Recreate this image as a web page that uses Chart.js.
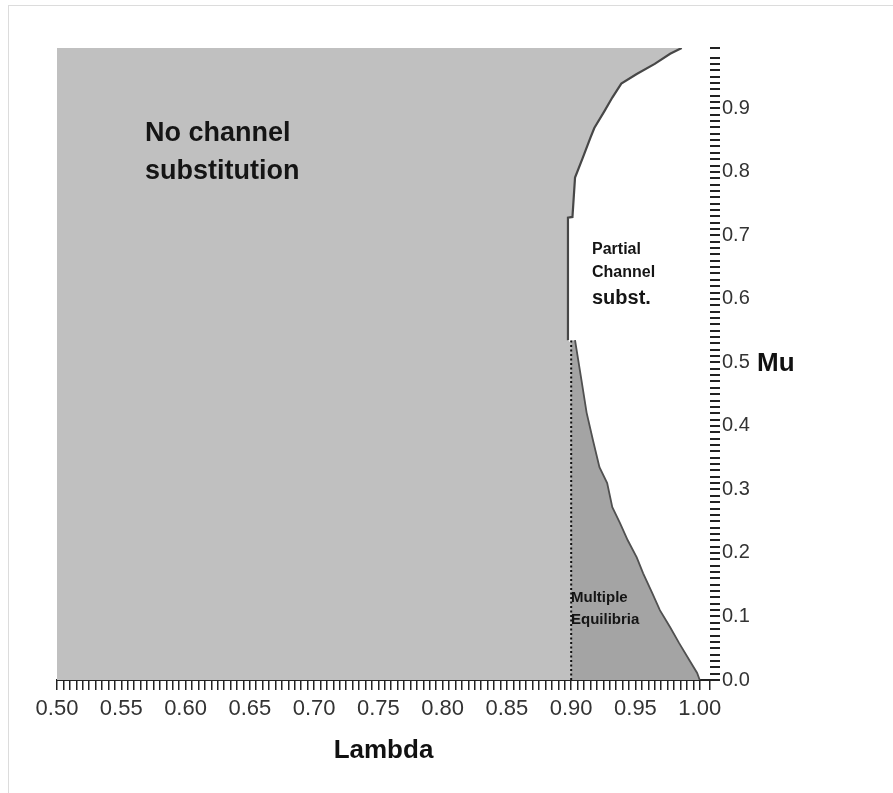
<!DOCTYPE html>
<html>
<head>
<meta charset="utf-8">
<script src="https://cdn.jsdelivr.net/npm/chart.js@4/dist/chart.umd.min.js"></script>
<style>
  html, body { margin: 0; padding: 0; background: #fff; }
  #wrap { position: relative; width: 893px; height: 793px; }
  #frame { position: absolute; left: 8px; top: 5px; right: 0; bottom: 0;
           border-top: 1px solid #dcdcdc; border-left: 1px solid #dcdcdc; pointer-events: none; }
  canvas { position: absolute; left: 0; top: 0; }
</style>
</head>
<body>
<div id="wrap">
  <canvas id="c" width="893" height="793"></canvas>
  <div id="frame"></div>
</div>
<script>
// ---- data ----
// x tick labels (Lambda) and y tick labels (Mu)
const lambdaTickLabels = ['0.50','0.55','0.60','0.65','0.70','0.75','0.80','0.85','0.90','0.95','1.00'];
const muTickLabels = ['0.0','0.1','0.2','0.3','0.4','0.5','0.6','0.7','0.8','0.9'];

// boundary of "No channel substitution" region: lambda as function of mu
const boundaryMu     = [0,    0.53, 0.535,  0.728,  0.729, 0.791, 0.822, 0.854, 0.869, 0.896, 0.917, 0.939, 0.954, 0.970, 0.986, 0.995];
const boundaryLambda = [0.90, 0.90, 0.8975, 0.8975, 0.901, 0.903, 0.909, 0.915, 0.918, 0.926, 0.932, 0.939, 0.951, 0.965, 0.977, 0.986];

// right edge of "Multiple Equilibria" region
const multiMu     = [0,   0.011, 0.031, 0.058, 0.083, 0.110, 0.137, 0.168, 0.193, 0.220, 0.247, 0.272, 0.310, 0.335, 0.377, 0.421, 0.472, 0.535];
const multiLambda = [1.0, 0.998, 0.992, 0.984, 0.977, 0.969, 0.963, 0.956, 0.951, 0.944, 0.938, 0.932, 0.928, 0.922, 0.917, 0.912, 0.908, 0.903];

// dotted separator line
const splitLambda = 0.90;
const splitMu = [0, 0.535];

const lambdaMin = 0.5, lambdaMax = 1.008;
const muMin = 0, muMax = 0.995;

const FONT = "'Liberation Sans', Arial, sans-serif";
Chart.defaults.font.family = FONT;

const toPts = (xs, ys) => xs.map((x, i) => ({x: x, y: ys[i]}));
// edge of the light region is drawn only where it borders the white region
const edgeStart = 2;

const textPlugin = {
  id: 'regionText',
  afterDraw(chart) {
    const ctx = chart.ctx;
    const ys = chart.scales.y;
    ctx.save();
    ctx.fillStyle = '#151515';
    ctx.textAlign = 'left';
    ctx.textBaseline = 'middle';
    ctx.font = 'bold 27px ' + FONT;
    ctx.fillText('No channel', 145, 134);
    ctx.fillText('substitution', 145, 172);
    ctx.font = 'bold 16px ' + FONT;
    ctx.fillText('Partial', 592, 250);
    ctx.fillText('Channel', 592, 273);
    ctx.font = 'bold 20px ' + FONT;
    ctx.fillText('subst.', 592, 298);
    ctx.font = 'bold 15px ' + FONT;
    ctx.fillText('Multiple', 571, 598);
    ctx.fillText('Equilibria', 571, 620);
    // axis title Mu
    ctx.font = 'bold 26px ' + FONT;
    ctx.fillStyle = '#111';
    ctx.fillText('Mu', 757, ys.getPixelForValue(0.5) + 1);
    ctx.restore();
  }
};

new Chart(document.getElementById('c'), {
  type: 'line',
  data: {
    datasets: [
      {
        label: 'No channel substitution',
        data: toPts(boundaryLambda, boundaryMu),
        backgroundColor: '#c0c0c0',
        borderWidth: 0,
        borderColor: 'rgba(0,0,0,0)',
        fill: {value: lambdaMin},
        order: 5
      },
      {
        label: 'edge',
        data: toPts(boundaryLambda.slice(edgeStart), boundaryMu.slice(edgeStart)),
        borderColor: '#474747',
        borderWidth: 2.2,
        fill: false,
        order: 4
      },
      {
        label: 'Multiple Equilibria',
        data: toPts(multiLambda, multiMu),
        backgroundColor: '#a4a4a4',
        borderColor: '#505050',
        borderWidth: 1.8,
        fill: {value: splitLambda},
        order: 2
      },
      {
        label: 'split',
        data: splitMu.map(m => ({x: splitLambda, y: m})),
        borderColor: '#111',
        borderWidth: 2,
        borderDash: [2, 2.5],
        fill: false,
        order: 1
      }
    ]
  },
  options: {
    indexAxis: 'y',
    responsive: false,
    animation: false,
    events: [],
    elements: { point: { radius: 0 }, line: { tension: 0 } },
    layout: { padding: { left: 57, top: 48, right: 0, bottom: 0 } },
    plugins: { legend: { display: false }, tooltip: { enabled: false } },
    scales: {
      x: {
        type: 'linear',
        position: 'bottom',
        min: lambdaMin,
        max: lambdaMax,
        grid: { drawOnChartArea: false, drawTicks: true, tickLength: 10, color: '#222', lineWidth: 1.5 },
        border: { display: true, color: '#222', width: 2 },
        ticks: {
          stepSize: 0.005,
          autoSkip: false,
          maxRotation: 0,
          minRotation: 0,
          padding: 6,
          color: '#333',
          font: { size: 22 },
          callback: v => {
            const k = Math.round(v * 1000);
            if (k % 50 !== 0) return '';
            const idx = Math.round((v - lambdaMin) / 0.05);
            return lambdaTickLabels[idx] !== undefined ? lambdaTickLabels[idx] : '';
          }
        },
        title: {
          display: true,
          text: 'Lambda',
          color: '#111',
          font: { size: 26, weight: 'bold' },
          padding: { top: 4, bottom: 27 }
        },
        afterFit: s => { s.height = 113; }
      },
      y: {
        type: 'linear',
        position: 'right',
        min: muMin,
        max: muMax,
        grid: { drawOnChartArea: false, drawTicks: true, tickLength: 10, color: '#222', lineWidth: 2 },
        border: { display: false },
        ticks: {
          stepSize: 0.01,
          autoSkip: false,
          padding: 2,
          color: '#333',
          font: { size: 20 },
          callback: v => {
            const k = Math.round(v * 100);
            if (k % 10 !== 0) return '';
            const idx = k / 10;
            return muTickLabels[idx] !== undefined ? muTickLabels[idx] : '';
          }
        },
        afterFit: s => { s.width = 183; }
      }
    }
  },
  plugins: [textPlugin]
});
</script>
</body>
</html>
